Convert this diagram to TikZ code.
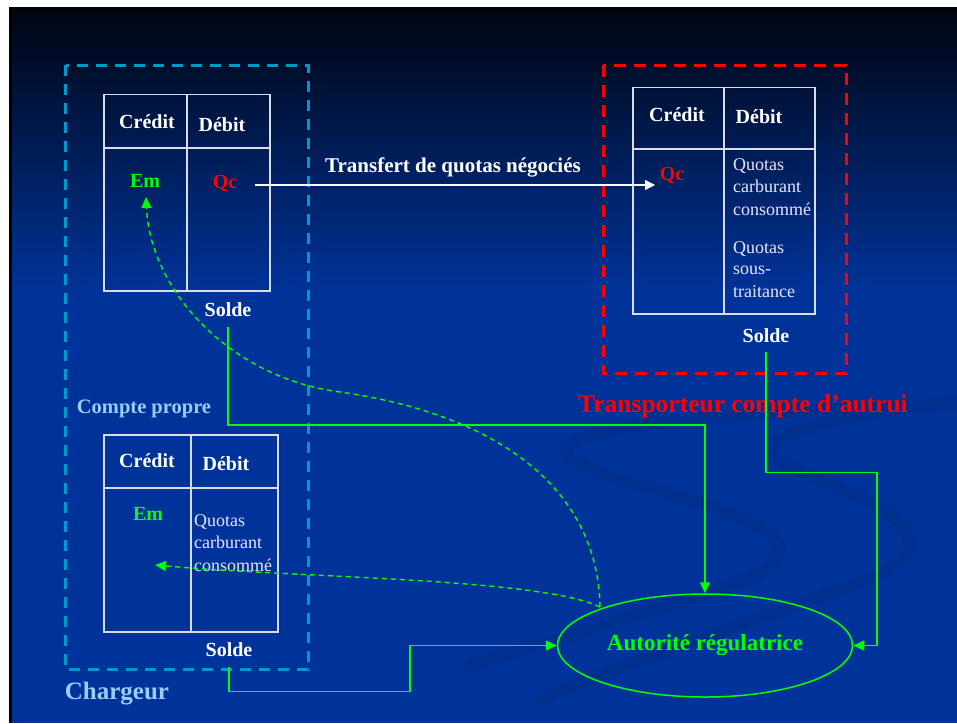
\documentclass[tikz,border=0pt]{standalone}
\usepackage{fontspec}
\setmainfont{Liberation Serif}
\usetikzlibrary{arrows.meta,shapes.geometric}
\definecolor{bgblue}{HTML}{003399}
\definecolor{topdark}{HTML}{000510}
\definecolor{swooshcol}{HTML}{002F8F}
\definecolor{cyanbox}{HTML}{0099CC}
\definecolor{lblue}{HTML}{99CCFF}
\definecolor{grn}{HTML}{00FF00}
\definecolor{tline}{HTML}{D8DCEC}
\begin{document}
\begin{tikzpicture}[x=1pt,y=-1pt,
  hdr/.style={font=\fontsize{20}{24}\selectfont\bfseries, text=white, inner sep=0, anchor=base},
  body/.style={font=\fontsize{18}{22}\selectfont, text=white!90!blue, inner sep=0, anchor=base west},
  tbl/.style={draw=tline, line width=1.2pt},
  gline/.style={draw=grn, line width=1.5pt},
  garrow/.style={gline, -{Triangle[length=11pt,width=10pt]}},
  gdash/.style={draw=grn, line width=1.4pt, dash pattern=on 5pt off 4pt, -{Triangle[length=11pt,width=10pt]}},
  swoosh/.style={draw=swooshcol, line width=12pt, line cap=round},
  dboxblue/.style={draw=cyanbox, line width=3pt, dash pattern=on 11pt off 8pt},
  dboxred/.style={draw=red, line width=3pt, dash pattern=on 12pt off 8pt}
]
\useasboundingbox (0,0) rectangle (957,723);
% background
\fill[white] (0,0) rectangle (957,723);
\shade[top color=topdark, bottom color=bgblue] (9,7) rectangle (957,290);
\fill[bgblue] (9,289.5) rectangle (957,723);
\fill[black] (9,7) rectangle (11.5,723);
% decorative swooshes
\draw[swoosh] (957,404) .. controls (760,410) and (545,425) .. (568,455) .. controls (590,480) and (720,500) .. (765,530) .. controls (800,555) and (770,575) .. (700,595) .. controls (620,620) and (540,645) .. (470,665);
\draw[swoosh] (957,402) .. controls (850,412) and (750,435) .. (775,458) .. controls (800,478) and (895,500) .. (908,535) .. controls (918,560) and (880,575) .. (840,590) .. controls (740,625) and (620,665) .. (540,700);
% dashed frames
\draw[dboxblue] (65.5,65) rectangle (308,669.5);
\draw[dboxred] (603,65) rectangle (846,373.5);
% tables
\draw[tbl] (104,94.5) rectangle (270,291);
\draw[tbl] (187,94.5) -- (187,291);
\draw[tbl] (104,148) -- (270,148);
\draw[tbl] (633,87.5) rectangle (815,314);
\draw[tbl] (724,87.5) -- (724,314);
\draw[tbl] (633,149) -- (815,149);
\draw[tbl] (104,435) rectangle (278,632);
\draw[tbl] (191,435) -- (191,632);
\draw[tbl] (104,488) -- (278,488);
% texts top-left table
\node[hdr] (cr1) at (147,128) {Crédit};
\node[hdr] (db1) at (222,131) {Débit};
\node[hdr, text=grn] (em1) at (145,187) {Em};
\node[hdr, text=red] (qc1) at (225,188) {Qc};
\node[hdr] (so1) at (228,316) {Solde};
\node[font=\fontsize{21}{24}\selectfont\bfseries, text=white, inner sep=0, anchor=base] (tr) at (453,172) {Transfert de quotas négociés};
% right table
\node[hdr] (cr2) at (677,121) {Crédit};
\node[hdr] (db2) at (759,123) {Débit};
\node[hdr, text=red] (qc2) at (672,180) {Qc};
\node[body] (r1) at (733,170) {Quotas};
\node[body] (r2) at (733,192) {carburant};
\node[body] (r3) at (733,215) {consommé};
\node[body] (r4) at (733,253) {Quotas};
\node[body] (r5) at (733,274) {sous-};
\node[body] (r6) at (733,297) {traitance};
\node[hdr] (so2) at (766,342) {Solde};
\node[font=\fontsize{25.5}{30}\selectfont\bfseries, text=red, inner sep=0, anchor=base] (ta) at (743,412) {Transporteur compte d’autrui};
% lower-left table
\node[font=\fontsize{20.5}{24}\selectfont\bfseries, text=lblue, inner sep=0, anchor=base] (cp) at (144,413) {Compte propre};
\node[hdr] (cr3) at (147,467) {Crédit};
\node[hdr] (db3) at (226,470) {Débit};
\node[hdr, text=grn] (em3) at (148,520) {Em};
\node[body] (l1) at (194,526) {Quotas};
\node[body] (l2) at (194,548) {carburant};
\node[body] (l3) at (194,571) {consommé};
\node[hdr] (so3) at (229,656) {Solde};
\node[font=\fontsize{25}{30}\selectfont\bfseries, text=lblue, inner sep=0, anchor=base] (ch) at (117,699) {Chargeur};
% authority
\node[ellipse, draw=grn, line width=1.5pt, minimum width=295pt, minimum height=103pt, inner sep=0, text=grn, font=\fontsize{23}{26}\selectfont\bfseries] (auth) at (705,645.5) {Autorité régulatrice};
% connectors
\coordinate (qcout) at (255,185);
\coordinate (qcin) at (655,185);
\draw[white, line width=1.2pt, -{Triangle[length=10pt,width=10pt]}] (qcout) -- (qcin);
\coordinate (s1) at (228,327);
\draw[garrow] (s1) -- (228,425) -| (auth.north);
\coordinate (s2) at (766,352);
\draw[garrow] (s2) -- (766,472.5) -- (877,472.5) |- (auth.east);
\coordinate (s3) at (229,667);
\draw[garrow] (s3) -- (229,691.5) -- (410,691.5) |- (auth.west);
\coordinate (d0) at (600,607);
\coordinate (emtip1) at (146,197);
\coordinate (emtip3) at (155,565);
\draw[gdash] (d0) .. controls (598,490) and (500,415) .. (340,392) .. controls (230,378) and (150,290) .. (emtip1);
\draw[gdash] (d0) .. controls (540,578) and (300,578) .. (emtip3);
\end{tikzpicture}
\end{document}
